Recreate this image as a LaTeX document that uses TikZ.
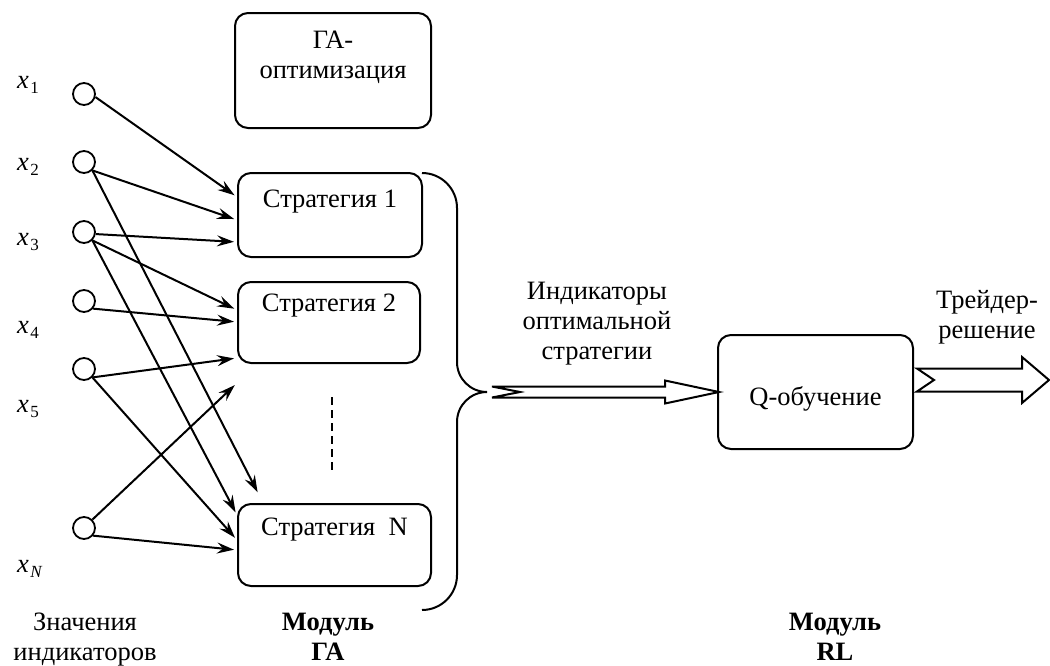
\documentclass[tikz,border=0pt]{standalone}
\usepackage{fontspec}
\setmainfont{Liberation Serif}
\usetikzlibrary{arrows.meta,calc}
\newcommand{\xsub}[1]{\textit{x}\kern1.5pt\raisebox{-5pt}{\fontsize{17}{17}\selectfont #1}}
\begin{document}
\begin{tikzpicture}[x=1pt,y=-1pt,
  every node/.style={font=\fontsize{26.5}{30}\selectfont},
  box/.style={draw, line width=2pt, rounded corners=13pt, inner sep=0pt},
  inp/.style={draw, circle, line width=1.8pt, minimum size=22pt, inner sep=0pt},
  txt/.style={anchor=base, align=center, inner sep=0pt},
  conn/.style={line width=2pt, shorten >=3pt, -{Stealth[length=17pt,width=11pt,inset=6pt]}},
  hollow/.style={draw, line width=2pt, fill=white, line join=miter},
]
\useasboundingbox (0,0) rectangle (1050,665);

% input circles
\node[inp] (c1) at (84,94) {};
\node[inp] (c2) at (84,162) {};
\node[inp] (c3) at (84,232) {};
\node[inp] (c4) at (84,301) {};
\node[inp] (c5) at (84,369) {};
\node[inp] (cN) at (84,528) {};

% input labels
\node[txt, anchor=base west] (l1) at (17,88) {\xsub{1}};
\node[txt, anchor=base west] (l2) at (17,170) {\xsub{2}};
\node[txt, anchor=base west] (l3) at (17,245) {\xsub{3}};
\node[txt, anchor=base west] (l4) at (17,333) {\xsub{4}};
\node[txt, anchor=base west] (l5) at (17,412) {\xsub{5}};
\node[txt, anchor=base west] (lN) at (17,572) {\xsub{\textit{N}}};

% boxes
\node[box, minimum width=196pt, minimum height=115pt] (ga) at (333,70.5) {};
\node[txt] (gat) at (333,78) {ГА-\\оптимизация};
\node[box, minimum width=184pt, minimum height=84pt] (s1) at (330,215) {};
\node[txt] (s1t) at (330,207) {Стратегия 1};
\node[box, minimum width=182pt, minimum height=81pt] (s2) at (329,322.5) {};
\node[txt] (s2t) at (329,311) {Стратегия 2};
\node[box, minimum width=193pt, minimum height=82pt] (sN) at (334.5,545) {};
\node[txt] (sNt) at (334.5,535) {Стратегия\ \ N};
\node[box, minimum width=195pt, minimum height=114pt] (q) at (815.5,392) {};
\node[txt] (qt) at (815.5,405) {Q-обучение};

% dashed ellipsis
\coordinate (d1) at (332,397);
\coordinate (d2) at (332,473);
\draw[line width=1.8pt, dash pattern=on 8pt off 5pt] (d1) -- (d2);

% connectors
\draw[conn] (c1.-15) -- ([yshift=18pt]s1.west);
\draw[conn] (c2.-45) -- ([yshift=-5pt]s1.west);
\draw[conn] (c2.-45) -- ([xshift=22pt,yshift=8pt]sN.north west);
\draw[conn] (c3.-10) -- ([yshift=-27pt]s1.west);
\draw[conn] (c3.-45) -- ([yshift=12.5pt]s2.west);
\draw[conn] (c3.-45) -- ([yshift=30pt]sN.west);
\draw[conn] (c4.-40) -- ([yshift=0.5pt]s2.west);
\draw[conn] (c5.-45) -- ([yshift=-35.5pt]s2.west);
\draw[conn] (c5.-45) -- ([yshift=5pt]sN.west);
\draw[conn] (cN.45) -- ([yshift=-19pt]s2.south west);
\draw[conn] (cN.-40) -- ([yshift=-5pt]sN.west);

% brace
\coordinate (bt) at (487,392);
\draw[line width=2pt] (422,173) to[out=0,in=90] (457,208) -- (457,362)
  to[out=-90,in=180] (bt) to[out=180,in=90] (457,422) -- (457,575)
  to[out=-90,in=0] (422,610);

% hollow arrow to Q
\coordinate (qw) at (q.west);
\draw[hollow] ($(bt)+(5,-5.5)$) -- ($(qw)+(-52,-5.5)$) -- ($(qw)+(-52,-11.5)$)
  -- ($(qw)+(2,0)$) -- ($(qw)+(-52,11.5)$) -- ($(qw)+(-52,5.5)$)
  -- ($(bt)+(5,5.5)$) -- ($(bt)+(33,0)$) -- cycle;
\node[txt] (ind) at (597,359) {Индикаторы\\оптимальной\\стратегии};

% output arrow
\coordinate (oa) at ([yshift=12pt]q.east);
\coordinate (ot) at (1049,380);
\draw[hollow] ($(oa)+(3,-11.5)$) -- ($(ot)+(-27,-11.5)$) -- ($(ot)+(-27,-23)$)
  -- (ot) -- ($(ot)+(-27,23)$) -- ($(ot)+(-27,11.5)$)
  -- ($(oa)+(3,11.5)$) -- ($(oa)+(20,0)$) -- cycle;
\node[txt] (trd) at (987,338) {Трейдер-\\решение};

% bottom captions
\node[txt] (zn) at (85,660) {Значения\\индикаторов};
\node[txt, font=\fontsize{26.5}{30}\selectfont\bfseries] (mga) at (328,660) {Модуль\\ГА};
\node[txt, font=\fontsize{26.5}{30}\selectfont\bfseries] (mrl) at (835,660) {Модуль\\RL};
\end{tikzpicture}
\end{document}
